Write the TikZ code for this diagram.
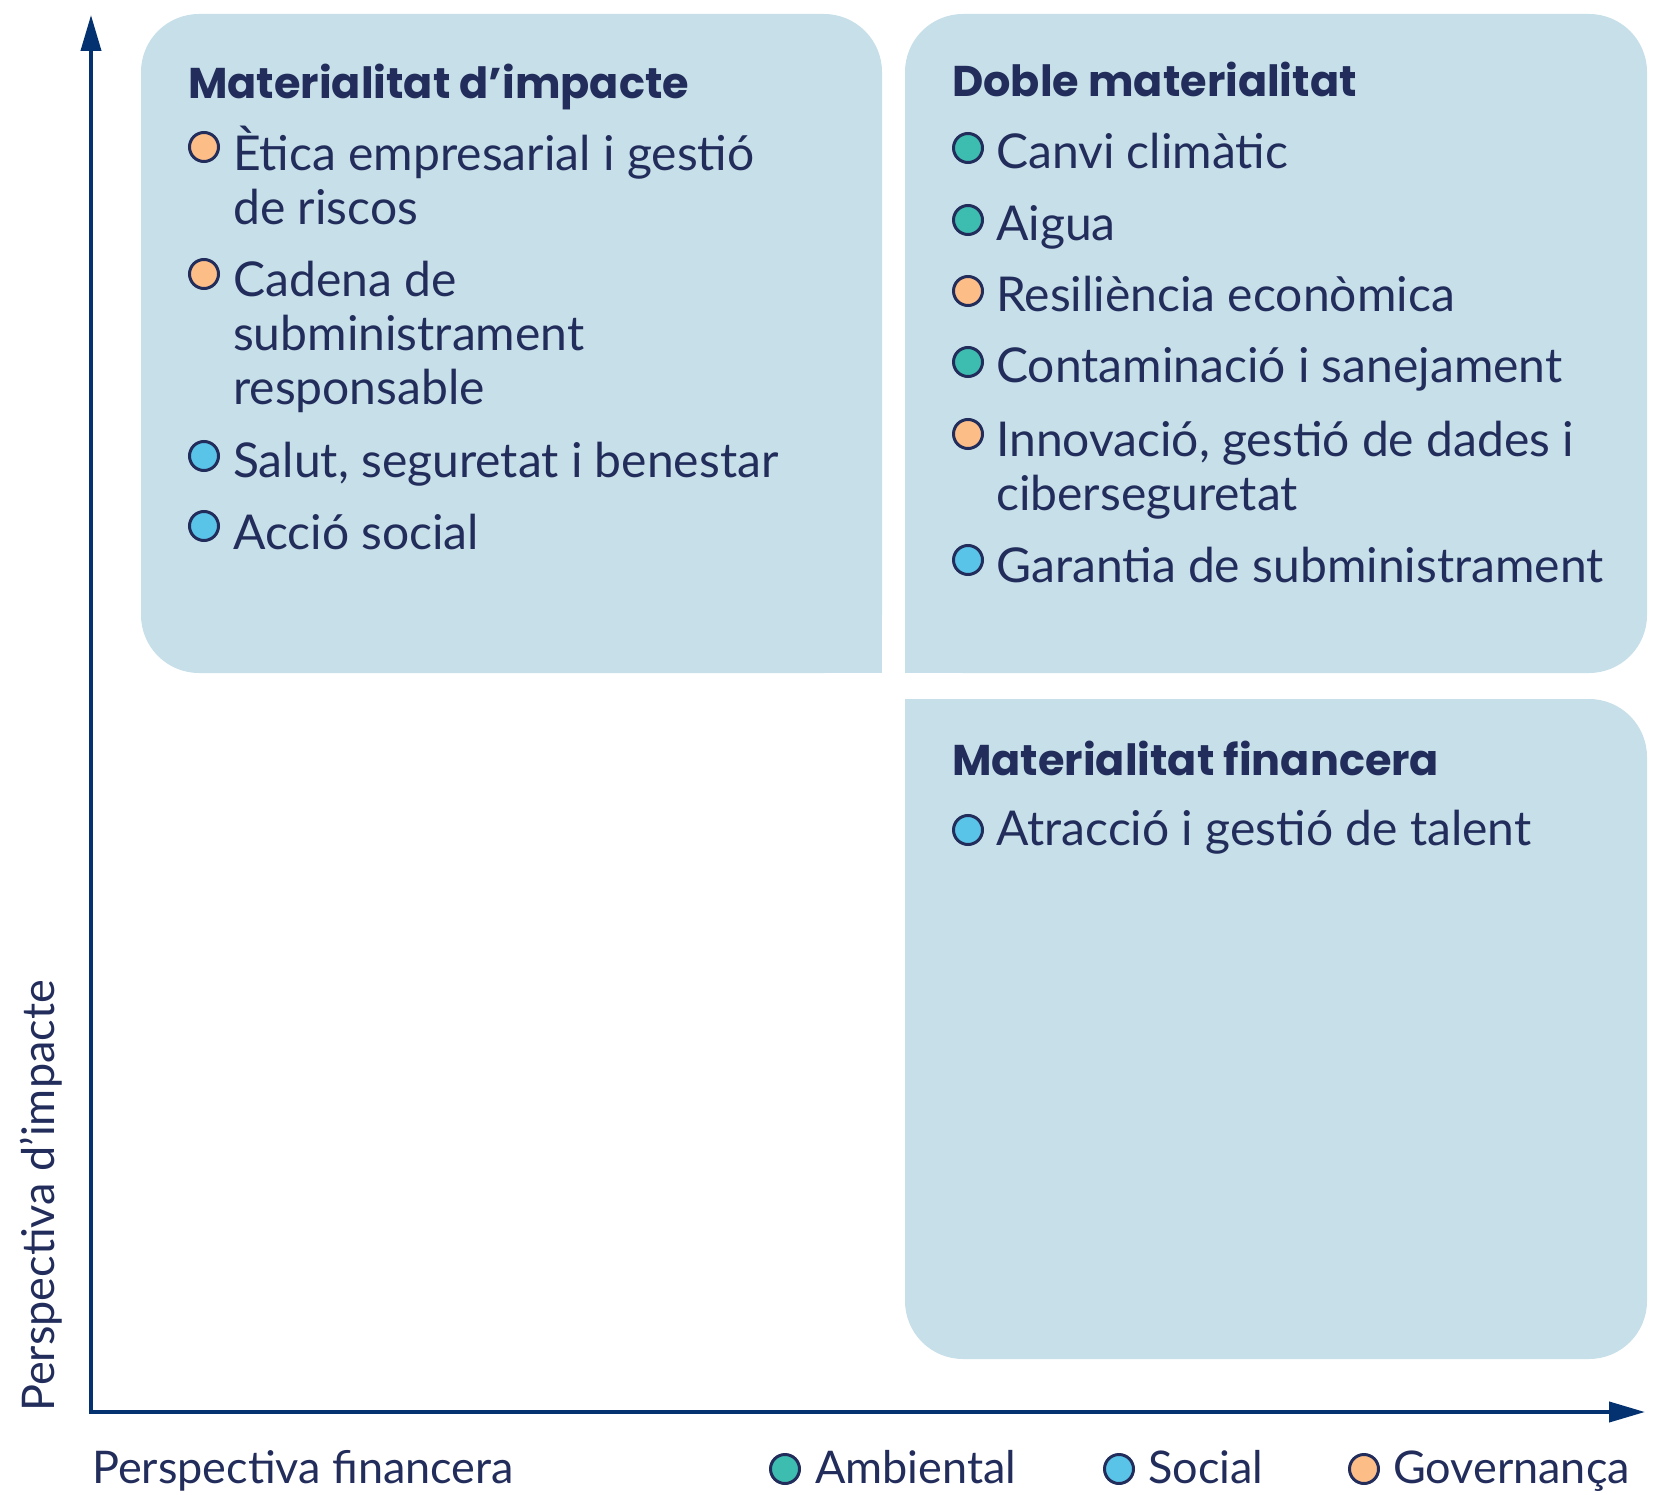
\documentclass[tikz,border=0pt]{standalone}
\usepackage{fontspec}
\setmainfont{Lato}
\newfontfamily\headfont{Poppins}
\usetikzlibrary{arrows.meta}
\definecolor{panelblue}{HTML}{C6DFE8}
\definecolor{ink}{HTML}{222D5B}
\definecolor{axisblue}{HTML}{04316F}
\definecolor{ambiental}{HTML}{3DBDB0}
\definecolor{social}{HTML}{5AC3E8}
\definecolor{governanca}{HTML}{FDBD87}
\begin{document}
\begin{tikzpicture}[x=1pt, y=-1pt,
    every node/.style={text=ink, inner sep=0pt},
    panel/.style={fill=panelblue, rounded corners=58pt},
    title/.style={font=\fontsize{43}{48}\selectfont\headfont\bfseries, anchor=base west},
    item/.style={font=\fontsize{48}{54}\selectfont, anchor=base west, align=left},
    label/.style={font=\fontsize{45}{54}\selectfont, anchor=base west},
    dot/.style={circle, draw=ink, line width=3pt, minimum size=29pt},
    axis/.style={draw=axisblue, line width=4pt, line join=miter}]
    \useasboundingbox (0,0) rectangle (1655,1495);
    % panels
    \fill[panel] (141,14) rectangle (882,673);
    \fill[panelblue] (800,600) rectangle (882,673);
    \fill[panel] (905,14) rectangle (1647,673);
    \fill[panelblue] (905,600) rectangle (990,673);
    \fill[panel] (905,699) rectangle (1647,1359);
    \fill[panelblue] (905,699) rectangle (990,780);
    % axes
    \coordinate (ytip) at (91,15);
    \coordinate (origin) at (91,1412);
    \coordinate (xtip) at (1645,1412);
    \draw[axis, {Triangle[length=36pt,width=20pt]}-{Triangle[length=36pt,width=20pt]}] (ytip) -- (origin) -- (xtip);
    \node[label, rotate=90] (ylabel) at (54,1412) {Perspectiva d'impacte};
    \node[label] (xlabel) at (92,1483) {Perspectiva financera};
    % materialitat d'impacte
    \node[title] (impacte) at (188,99) {Materialitat d’impacte};
    \node[dot, fill=governanca] (d1) at (204,147) {};
    \node[item] (t1) at (233,225) {Ètica empresarial i gestió\\de riscos};
    \node[dot, fill=governanca] (d2) at (204,274) {};
    \node[item] (t2) at (233,405) {Cadena de\\subministrament\\responsable};
    \node[dot, fill=social] (d3) at (204,456) {};
    \node[item] (t3) at (233,478) {Salut, seguretat i benestar};
    \node[dot, fill=social] (d4) at (204,526) {};
    \node[item] (t4) at (233,549) {Acció social};
    % doble materialitat
    \node[title] (doble) at (952,97) {Doble materialitat};
    \node[dot, fill=ambiental] (d5) at (968,148) {};
    \node[item] (t5) at (996,169) {Canvi climàtic};
    \node[dot, fill=ambiental] (d6) at (968,220) {};
    \node[item] (t6) at (996,241) {Aigua};
    \node[dot, fill=governanca] (d7) at (968,291) {};
    \node[item] (t7) at (996,312) {Resiliència econòmica};
    \node[dot, fill=ambiental] (d8) at (968,362) {};
    \node[item] (t8) at (996,383) {Contaminació i sanejament};
    \node[dot, fill=governanca] (d9) at (968,434) {};
    \node[item] (t9) at (996,510) {Innovació, gestió de dades i\\ciberseguretat};
    \node[dot, fill=social] (d10) at (968,560) {};
    \node[item] (t10) at (996,582) {Garantia de subministrament};
    % materialitat financera
    \node[title] (financera) at (952,775) {Materialitat financera};
    \node[dot, fill=social] (d11) at (968,830) {};
    \node[item] (t11) at (996,845) {Atracció i gestió de talent};
    % legend
    \node[dot, fill=ambiental] (lamb) at (785,1469) {};
    \node[label] (tamb) at (815,1483) {Ambiental};
    \node[dot, fill=social] (lsoc) at (1119,1469) {};
    \node[label] (tsoc) at (1148,1483) {Social};
    \node[dot, fill=governanca] (lgov) at (1364,1469) {};
    \node[label] (tgov) at (1393,1483) {Governança};
\end{tikzpicture}
\end{document}
